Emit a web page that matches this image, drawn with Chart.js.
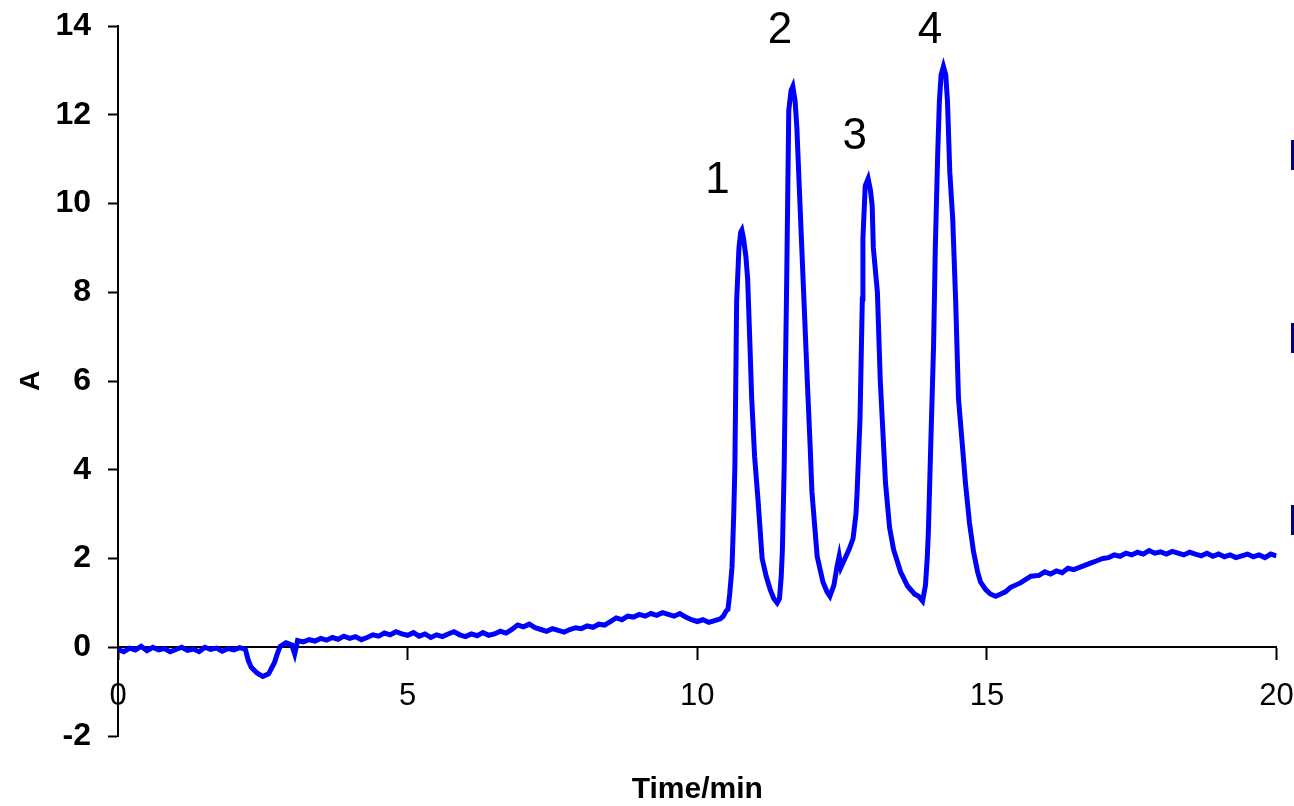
<!DOCTYPE html>
<html>
<head>
<meta charset="utf-8">
<title>Chromatogram</title>
<script src="https://cdn.jsdelivr.net/npm/chart.js@4.4.1/dist/chart.umd.min.js"></script>
<style>
  html, body { margin: 0; padding: 0; background: #fff; }
  #wrap { width: 1294px; height: 806px; position: relative; }
</style>
</head>
<body>
<div id="wrap"><canvas id="chrom-chart"></canvas></div>
<script>
// Retention time (min) and detector response (A)
const timeMin = [
  0.0, 0.1, 0.2, 0.3, 0.4, 0.5, 0.6, 0.7, 0.8, 0.9,
  1.0, 1.1, 1.2, 1.3, 1.4, 1.5, 1.6, 1.7, 1.8, 1.9,
  2.0, 2.1, 2.2, 2.25, 2.3, 2.4, 2.5, 2.6, 2.7, 2.75,
  2.8, 2.9, 3.0, 3.05, 3.1, 3.2, 3.3, 3.4, 3.5, 3.6,
  3.7, 3.8, 3.9, 4.0, 4.1, 4.2, 4.3, 4.4, 4.5, 4.6,
  4.7, 4.8, 4.9, 5.0, 5.1, 5.2, 5.3, 5.4, 5.5, 5.6,
  5.7, 5.8, 5.9, 6.0, 6.1, 6.2, 6.3, 6.4, 6.5, 6.6,
  6.7, 6.8, 6.9, 7.0, 7.1, 7.2, 7.3, 7.4, 7.5, 7.6,
  7.7, 7.8, 7.9, 8.0, 8.1, 8.2, 8.3, 8.4, 8.5, 8.6,
  8.7, 8.8, 8.9, 9.0, 9.1, 9.2, 9.3, 9.4, 9.5, 9.6,
  9.7, 9.8, 9.9, 10.0, 10.1, 10.2, 10.3, 10.4, 10.45, 10.5,
  10.53, 10.56, 10.60, 10.63, 10.65, 10.68, 10.72, 10.75, 10.77, 10.80,
  10.84, 10.87, 10.91, 10.94, 10.99, 11.05, 11.12, 11.19, 11.26, 11.32,
  11.38, 11.42, 11.45, 11.47, 11.50, 11.52, 11.54, 11.56, 11.58, 11.62,
  11.65, 11.69, 11.72, 11.77, 11.83, 11.90, 11.95, 11.98, 12.07, 12.17,
  12.24, 12.29, 12.36, 12.41, 12.45, 12.48, 12.55, 12.62, 12.69, 12.74,
  12.76, 12.81, 12.85, 12.86, 12.90, 12.95, 12.99, 13.02, 13.04, 13.11,
  13.16, 13.25, 13.32, 13.39, 13.51, 13.63, 13.75, 13.82, 13.89, 13.94,
  13.97, 13.99, 14.03, 14.08, 14.11, 14.15, 14.18, 14.21, 14.25, 14.29,
  14.32, 14.36, 14.41, 14.46, 14.51, 14.58, 14.63, 14.70, 14.77, 14.84,
  14.89, 14.98, 15.06, 15.15, 15.24, 15.32, 15.41, 15.58, 15.76, 15.9,
  16.0, 16.1, 16.2, 16.3, 16.4, 16.5, 16.6, 16.7, 16.8, 16.9,
  17.0, 17.1, 17.2, 17.3, 17.4, 17.5, 17.6, 17.7, 17.8, 17.9,
  18.0, 18.1, 18.2, 18.3, 18.4, 18.5, 18.6, 18.7, 18.8, 18.9,
  19.0, 19.1, 19.2, 19.3, 19.4, 19.5, 19.6, 19.7, 19.8, 19.9,
  20.0
];

const absorbance = [
  -0.05, -0.10, -0.02, -0.06, 0.02, -0.08, 0.00, -0.06, -0.03, -0.10,
  -0.05, 0.00, -0.07, -0.04, -0.10, 0.00, -0.05, -0.02, -0.09, -0.03,
  -0.06, -0.01, -0.05, -0.30, -0.45, -0.58, -0.66, -0.60, -0.35, -0.15,
  0.02, 0.10, 0.05, -0.15, 0.15, 0.12, 0.17, 0.14, 0.20, 0.16,
  0.22, 0.18, 0.25, 0.20, 0.24, 0.17, 0.22, 0.28, 0.25, 0.32,
  0.28, 0.35, 0.30, 0.27, 0.33, 0.25, 0.30, 0.22, 0.28, 0.24,
  0.30, 0.35, 0.28, 0.24, 0.30, 0.26, 0.33, 0.27, 0.30, 0.36,
  0.32, 0.40, 0.50, 0.46, 0.52, 0.44, 0.40, 0.36, 0.42, 0.38,
  0.34, 0.40, 0.44, 0.42, 0.48, 0.45, 0.52, 0.50, 0.58, 0.66,
  0.62, 0.70, 0.68, 0.74, 0.70, 0.76, 0.72, 0.78, 0.74, 0.70,
  0.76, 0.68, 0.62, 0.58, 0.62, 0.56, 0.60, 0.64, 0.70, 0.82,
  0.85, 1.2, 1.8, 3.0, 4.1, 7.8, 9.0, 9.35, 9.4, 9.2,
  8.8, 8.3, 6.8, 5.6, 4.3, 3.3, 2.0, 1.6, 1.3, 1.1,
  1.0, 1.1, 1.6, 2.2, 4.0, 6.0, 7.85, 9.95, 12.1, 12.55,
  12.64, 12.3, 11.7, 10.1, 8.2, 6.0, 4.5, 3.5, 2.05, 1.47,
  1.25, 1.15, 1.4, 1.8, 2.05, 1.8, 2.0, 2.2, 2.45, 3.0,
  3.5, 5.15, 7.85, 9.2, 10.4, 10.56, 10.3, 9.95, 9.0, 8.0,
  6.0, 3.7, 2.7, 2.2, 1.7, 1.38, 1.2, 1.15, 1.04, 1.4,
  2.0, 2.6, 4.5, 6.8, 9.0, 11.07, 12.3, 12.9, 13.09, 12.9,
  12.3, 10.7, 9.66, 7.85, 5.6, 4.5, 3.7, 2.8, 2.15, 1.7,
  1.47, 1.3, 1.2, 1.15, 1.2, 1.25, 1.35, 1.45, 1.6, 1.62,
  1.70, 1.65, 1.72, 1.68, 1.78, 1.75, 1.80, 1.85, 1.90, 1.95,
  2.00, 2.02, 2.08, 2.05, 2.12, 2.08, 2.14, 2.10, 2.18, 2.12,
  2.15, 2.10, 2.16, 2.12, 2.08, 2.14, 2.10, 2.06, 2.12, 2.05,
  2.10, 2.04, 2.08, 2.02, 2.06, 2.10, 2.04, 2.08, 2.02, 2.10,
  2.06
];

// Peak numbers, placed in data units above each peak
const peakNames = ['1', '2', '3', '4'];
const peakNameTime = [10.35, 11.43, 12.72, 14.02];
const peakNameLevel = [10.5, 13.9, 11.5, 13.9];

const FONT = 'Arial, "Liberation Sans", sans-serif';

const peakNumbers = {
    id: 'peakNumbers',
    afterDatasetsDraw(chart) {
        const { ctx, scales } = chart;
        ctx.save();
        ctx.fillStyle = '#000';
        ctx.font = '44px ' + FONT;
        ctx.textAlign = 'center';
        ctx.textBaseline = 'middle';
        peakNames.forEach((name, i) => {
            ctx.fillText(name, scales.x.getPixelForValue(peakNameTime[i]), scales.y.getPixelForValue(peakNameLevel[i]));
        });
        ctx.restore();
    }
};

// small navy tabs cut off at the right edge
const edgeTabs = {
    id: 'edgeTabs',
    afterDraw(chart) {
        const ctx = chart.ctx;
        ctx.save();
        ctx.fillStyle = '#000080';
        [140, 323, 505].forEach(top => ctx.fillRect(chart.width - 3, top, 3, 30));
        ctx.restore();
    }
};

const ctx = document.getElementById('chrom-chart').getContext('2d');
new Chart(ctx, {
    type: 'line',
    data: {
        datasets: [{
            data: timeMin.map((t, i) => ({ x: t, y: absorbance[i] })),
            borderColor: '#0000ff',
            borderWidth: 5,
            pointRadius: 0,
            tension: 0,
            fill: false
        }]
    },
    options: {
        responsive: true,
        maintainAspectRatio: false,
        animation: false,
        devicePixelRatio: 1,
        layout: { padding: { top: 26, right: 17.5, bottom: 0, left: 0 } },
        plugins: {
            legend: { display: false },
            tooltip: { enabled: false },
            title: {
                display: true,
                text: 'Time/min',
                position: 'bottom',
                fullSize: false,
                color: '#000',
                font: { family: FONT, size: 30, weight: 'bold', lineHeight: 1.1 },
                padding: { top: 37, bottom: 0 }
            }
        },
        scales: {
            x: {
                type: 'linear',
                position: { y: 0 },
                min: 0,
                max: 20,
                ticks: { stepSize: 5, color: '#000', font: { family: FONT, size: 31 }, padding: 19, maxRotation: 0 },
                grid: { drawOnChartArea: false, drawTicks: true, tickLength: 12, tickWidth: 2, tickColor: '#000' },
                border: { display: true, color: '#000', width: 2 },
                afterFit(scale) { scale.paddingLeft = 0; scale.paddingRight = 0; }
            },
            y: {
                min: -2,
                max: 14,
                ticks: { stepSize: 2, color: '#000', font: { family: FONT, size: 32, weight: 'bold' }, padding: 17 },
                grid: { drawOnChartArea: false, drawTicks: true, tickLength: 10, tickWidth: 2, tickColor: '#000' },
                border: { display: true, color: '#000', width: 2 },
                title: {
                    display: true,
                    text: 'A',
                    color: '#000',
                    font: { family: FONT, size: 28, weight: 'bold' },
                    padding: { top: 14, bottom: 0 }
                },
                afterFit(scale) {
                    scale.width = 118;
                    scale.paddingTop = 0;
                    scale.paddingBottom = 0;
                }
            }
        }
    },
    plugins: [peakNumbers, edgeTabs]
});
</script>
</body>
</html>
